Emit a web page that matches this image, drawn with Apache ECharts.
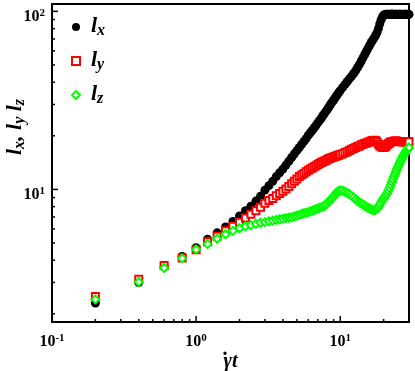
<!DOCTYPE html>
<html>
<head>
<meta charset="utf-8">
<script src="https://cdn.jsdelivr.net/npm/echarts@6/dist/echarts.min.js"></script>
<style>
    html, body {margin: 0; padding: 0; background: #fff;}
    #chart {width: 415px; height: 371px;}
</style>
</head>
<body>
<div id="chart"></div>
<script>
// shear time (gamma-dot t)
var tVals = [0.2, 0.4, 0.6, 0.8, 1.0, 1.2, 1.4, 1.6, 1.8, 2.0, 2.2, 2.4, 2.6, 2.8, 3.0, 3.2, 3.4, 3.6, 3.8, 4.0,
    4.2, 4.4, 4.6, 4.8, 5.0, 5.2, 5.4, 5.6, 5.8, 6.0, 6.2, 6.4, 6.6, 6.8, 7.0, 7.2, 7.4, 7.6, 7.8, 8.0,
    8.2, 8.4, 8.6, 8.8, 9.0, 9.2, 9.4, 9.6, 9.8, 10.0,
    10.4, 10.8, 11.2, 11.6, 12.0, 12.4, 12.8, 13.2, 13.6, 14.0, 14.4, 14.8, 15.2, 15.6, 16.0,
    16.4, 16.8, 17.2, 17.6, 18.0, 18.4, 18.8, 19.2, 19.6, 20.0,
    20.4, 20.8, 21.2, 21.6, 22.0, 22.4, 22.8, 23.2, 23.6, 24.0, 24.4, 24.8, 25.2, 25.6, 26.0,
    26.4, 26.8, 27.2, 27.6, 28.0, 28.4, 28.8, 29.2, 29.6, 30.0];

var lxVals = [2.3, 3.0, 3.68, 4.2, 4.7, 5.25, 5.7, 6.15, 6.6, 7.1, 7.6, 8.05, 8.6, 9.15, 9.9, 10.5, 11.1, 11.8, 12.4, 13.0,
    13.7, 14.4, 15.1, 15.8, 16.5, 17.2, 17.9, 18.6, 19.3, 20.1, 20.8, 21.5, 22.2, 22.9, 23.7, 24.4, 25.2, 26.0, 26.8, 27.6,
    28.4, 29.3, 30.2, 31.0, 31.8, 32.6, 33.5, 34.3, 35.1, 35.9,
    37.4, 38.9, 40.4, 41.9, 43.3, 44.8, 46.5, 48.4, 50.4, 52.6, 55.0, 57.3, 59.7, 62.1, 64.5,
    66.9, 69.0, 71.0, 73.2, 76.0, 80.0, 85.0, 89.5, 93.0, 95.0,
    96.0, 96.2, 96.4, 96.2, 96.0, 96.3, 96.5, 96.3, 96.1, 96.2, 96.4, 96.3, 96.1, 96.2, 96.3,
    96.2, 96.0, 96.1, 96.3, 96.2, 96.1, 96.3, 96.2, 96.0, 96.2];

var lyVals = [2.5, 3.13, 3.74, 4.12, 4.58, 5.08, 5.45, 5.85, 6.2, 6.55, 6.9, 7.25, 7.6, 7.95, 8.35, 8.65, 8.9, 9.2, 9.5, 9.75,
    10.05, 10.4, 10.75, 11.1, 11.45, 11.8, 12.05, 12.3, 12.55, 12.8, 13.0, 13.2, 13.4, 13.6, 13.8, 14.0, 14.15, 14.3, 14.45, 14.6,
    14.75, 14.9, 15.0, 15.1, 15.2, 15.3, 15.4, 15.5, 15.6, 15.7,
    15.85, 16.1, 16.3, 16.55, 16.8, 17.0, 17.2, 17.4, 17.55, 17.8, 17.95, 18.1, 18.25, 18.4, 18.55,
    18.7, 18.85, 18.9, 18.85, 18.5, 18.0, 17.6, 17.35, 17.25, 17.2,
    17.3, 17.5, 17.8, 18.05, 18.3, 18.45, 18.55, 18.6, 18.65, 18.7, 18.7, 18.65, 18.6, 18.6, 18.6,
    18.55, 18.5, 18.5, 18.55, 18.5, 18.5, 18.45, 18.5, 18.5, 18.5];

var lzVals = [2.41, 3.02, 3.62, 4.1, 4.6, 4.93, 5.28, 5.6, 5.85, 6.05, 6.2, 6.3, 6.4, 6.5, 6.55, 6.62, 6.68, 6.75, 6.8, 6.85,
    6.9, 6.93, 6.98, 7.05, 7.12, 7.2, 7.28, 7.35, 7.4, 7.45, 7.52, 7.6, 7.68, 7.75, 7.82, 7.9, 7.95, 8.0, 8.1, 8.25,
    8.42, 8.6, 8.78, 8.95, 9.15, 9.35, 9.55, 9.7, 9.8, 9.85,
    9.82, 9.7, 9.55, 9.4, 9.2, 9.0, 8.8, 8.6, 8.45, 8.35, 8.22, 8.1, 7.98, 7.88, 7.8,
    7.72, 7.67, 7.65, 7.68, 7.78, 7.95, 8.2, 8.45, 8.7, 8.9,
    9.1, 9.3, 9.55, 9.85, 10.2, 10.6, 11.0, 11.4, 11.8, 12.2, 12.6, 13.0, 13.4, 13.8, 14.2,
    14.6, 14.95, 15.3, 15.6, 15.9, 16.2, 16.5, 16.8, 17.0, 17.2];

// axis ticks
var xMajor = [0.1, 1, 10];
var xMinor = [0.2, 0.3, 0.4, 0.5, 0.6, 0.7, 0.8, 0.9, 2, 3, 4, 5, 6, 7, 8, 9, 20];
var yMajor = [10, 100];
var yMinor = [2, 3, 4, 5, 6, 7, 8, 9, 20, 30, 40, 50, 60, 70, 80, 90];

var xMin = 0.1, xMax = 30, yMin = 1.8, yMax = 110;
var serif = '"Liberation Serif", "DejaVu Serif", serif';

function pairs(ys) {
    var out = [];
    for (var i = 0; i < tVals.length; i++) {
        out.push([tVals[i], ys[i]]);
    }
    return out;
}

// tick data: [x, y, length]
function tickData(major, minor, dim) {
    var out = [];
    major.forEach(function (v) { out.push(dim == 'x' ? [v, yMin, 6] : [xMin, v, 6]); });
    minor.forEach(function (v) { out.push(dim == 'x' ? [v, yMin, 3] : [xMin, v, 3]); });
    return out;
}

function renderTick(params, api) {
    var p = api.coord([api.value(0), api.value(1)]);
    var len = api.value(2);
    var isX = params.seriesName == 'xticks';
    return {
        type: 'line',
        shape: isX ? {x1: p[0], y1: p[1], x2: p[0], y2: p[1] - len} : {x1: p[0], y1: p[1], x2: p[0] + len, y2: p[1]},
        style: {stroke: '#000', lineWidth: 1.5}
    };
}

function powLabel(v) {
    var e = Math.round(Math.log(v) / Math.LN10);
    return '{b|10}{s|' + e + '}';
}

var powRich = {
    b: {fontFamily: serif, fontWeight: 'bold', fontSize: 16, lineHeight: 18, color: '#000'},
    s: {fontFamily: serif, fontWeight: 'bold', fontSize: 11, lineHeight: 10, verticalAlign: 'top', color: '#000'}
};

var subRich = {
    i: {fontFamily: serif, fontWeight: 'bold', fontStyle: 'italic', fontSize: 22, lineHeight: 24, verticalAlign: 'top', color: '#000'},
    sub: {fontFamily: serif, fontWeight: 'bold', fontStyle: 'italic', fontSize: 16, lineHeight: 16, verticalAlign: 'bottom', padding: [10, 0, 0, 0], color: '#000'}
};

var legendNames = {lx: '{i|l}{sub|x}', ly: '{i|l}{sub|y}', lz: '{i|l}{sub|z}'};

function makeAxis(dim, min, max, major) {
    return {
        type: 'log',
        logBase: 10,
        min: min,
        max: max,
        position: dim == 'x' ? 'bottom' : 'left',
        nameMoveOverlap: false,
        axisLine: {show: true, lineStyle: {color: '#000', width: 2}},
        axisTick: {show: false},
        axisLabel: {
            show: true, customValues: major, formatter: powLabel, rich: powRich,
            margin: dim == 'x' ? 11 : 7, padding: dim == 'x' ? 0 : [10, 0, 0, 0]
        },
        splitLine: {show: false}
    };
}

var mChart = echarts.init(document.getElementById('chart'), null, {renderer: 'canvas'});

var xMain = makeAxis('x', xMin, xMax, xMajor);
// a period on a squeezed line acts as the dot over the gamma
xMain.name = '{d|.}\n{g|\u03B3t}';
xMain.nameLocation = 'middle';
xMain.nameGap = 26;
xMain.nameTextStyle = {
    rich: {
        d: {fontFamily: serif, fontWeight: 'bold', fontSize: 20, lineHeight: 4, padding: [0, 11, 0, 0], color: '#000'},
        g: {fontFamily: serif, fontWeight: 'bold', fontStyle: 'italic', fontSize: 20, lineHeight: 20, color: '#000'}
    }
};

var yMain = makeAxis('y', yMin, yMax, yMajor);
yMain.name = '{i|l}{sub|x}{i|, l}{sub|y}{i| l}{sub|z}';
yMain.nameLocation = 'middle';
yMain.nameRotate = 90;
yMain.nameGap = 24;
yMain.nameTextStyle = {rich: subRich, padding: [0, 0, 0, 72]};

var chartOption = {
    animation: false,
    backgroundColor: '#fff',
    grid: {
        left: 52, right: 6, top: 4, bottom: 49,
        containLabel: false, outerBoundsMode: 'none',
        show: true, borderColor: '#000', borderWidth: 2, backgroundColor: 'transparent'
    },
    legend: {
        orient: 'vertical',
        left: 66,
        top: 8,
        itemWidth: 8,
        itemHeight: 8,
        itemGap: 8,
        textStyle: {rich: subRich, padding: [0, 0, 0, 6]},
        formatter: function (name) {
            return legendNames[name];
        },
        data: [
            {name: 'lx', icon: 'circle', itemStyle: {color: '#000', borderWidth: 0, opacity: 1}},
            {name: 'ly', icon: 'rect', itemStyle: {color: '#fff', borderColor: '#ff0000', borderWidth: 2, opacity: 1}},
            {name: 'lz', icon: 'diamond', itemStyle: {color: '#fff', borderColor: '#00ff00', borderWidth: 2, opacity: 1}}
        ]
    },
    xAxis: xMain,
    yAxis: yMain,
    series: [
        {
            name: 'xticks', type: 'custom', renderItem: renderTick, silent: true,
            data: tickData(xMajor, xMinor, 'x'), z: 5
        },
        {
            name: 'yticks', type: 'custom', renderItem: renderTick, silent: true,
            data: tickData(yMajor, yMinor, 'y'), z: 5
        },
        {
            name: 'lx', type: 'scatter',
            symbol: 'circle', symbolSize: 9,
            itemStyle: {color: '#000', opacity: 1},
            data: pairs(lxVals)
        },
        {
            name: 'ly', type: 'scatter',
            symbol: 'rect', symbolSize: 7,
            itemStyle: {color: '#fff', borderColor: '#ff0000', borderWidth: 2, opacity: 1},
            data: pairs(lyVals)
        },
        {
            name: 'lz', type: 'scatter',
            symbol: 'diamond', symbolSize: 8,
            itemStyle: {color: '#fff', borderColor: '#00ff00', borderWidth: 2, opacity: 1},
            data: pairs(lzVals)
        }
    ]
};

mChart.setOption(chartOption, true);
</script>
</body>
</html>
